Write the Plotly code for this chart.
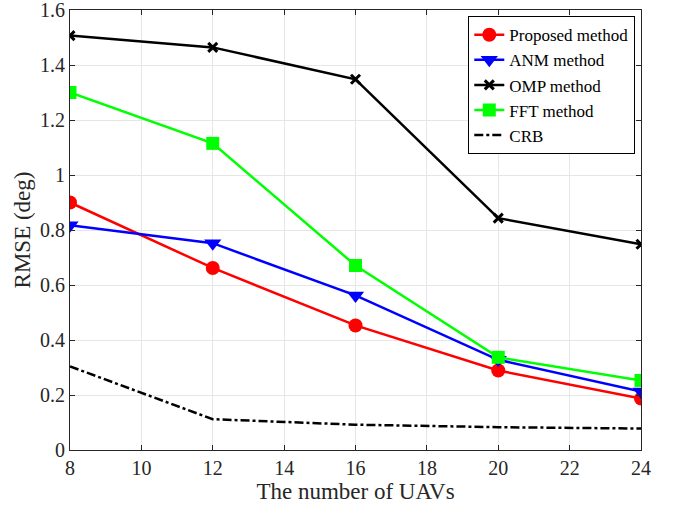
import plotly.graph_objects as go

uavs = [8, 12, 16, 20, 24]
proposed = [0.90, 0.662, 0.453, 0.289, 0.187]
anm = [0.817, 0.752, 0.562, 0.328, 0.213]
omp = [1.507, 1.464, 1.348, 0.843, 0.748]
fft = [1.300, 1.115, 0.671, 0.337, 0.253]
crb = [0.304, 0.112, 0.092, 0.083, 0.078]

fig = go.Figure()
fig.add_trace(go.Scatter(x=uavs, y=proposed, name="Proposed method", mode="lines+markers",
                         line=dict(color="#ff0000", width=2.5),
                         marker=dict(symbol="circle", size=14, color="#ff0000")))
fig.add_trace(go.Scatter(x=uavs, y=anm, name="ANM method", mode="lines+markers",
                         line=dict(color="#0000ff", width=2.5),
                         marker=dict(symbol="triangle-down", size=15, color="#0000ff")))
fig.add_trace(go.Scatter(x=uavs, y=omp, name="OMP method", mode="lines+markers",
                         line=dict(color="#000000", width=2.5),
                         marker=dict(symbol="x-thin", size=9, color="#000000",
                                     line=dict(width=3, color="#000000"))))
fig.add_trace(go.Scatter(x=uavs, y=fft, name="FFT method", mode="lines+markers",
                         line=dict(color="#00ff00", width=2.5),
                         marker=dict(symbol="square", size=13, color="#00ff00")))
fig.add_trace(go.Scatter(x=uavs, y=crb, name="CRB", mode="lines",
                         line=dict(color="#000000", width=2.5, dash="dashdot")))

axis_common = dict(showline=True, linecolor="#262626", linewidth=1, mirror="ticks",
                   ticks="inside", ticklen=5, tickcolor="#262626",
                   showgrid=True, gridcolor="#e6e6e6", gridwidth=1,
                   zeroline=False, automargin=False, ticklabeloverflow="allow",
                   tickfont=dict(family="Liberation Serif", size=20, color="#262626"))

fig.update_layout(
    width=673, height=506,
    margin=dict(l=70, r=32, t=10, b=56),
    paper_bgcolor="white", plot_bgcolor="white",
    font=dict(family="Liberation Serif", color="#262626"),
    xaxis=dict(range=[8, 24], tickvals=[8, 10, 12, 14, 16, 18, 20, 22, 24],
               title=dict(text="The number of UAVs", font=dict(size=23, family="Liberation Serif"), standoff=0),
               **axis_common),
    yaxis=dict(range=[0, 1.6], tickvals=[0, 0.2, 0.4, 0.6, 0.8, 1, 1.2, 1.4, 1.6],
               ticktext=["0", "0.2", "0.4", "0.6", "0.8", "1", "1.2", "1.4", "1.6"],
               title=dict(text="RMSE (deg)", font=dict(size=23, family="Liberation Serif"), standoff=2),
               **axis_common),
    legend=dict(x=0.99, y=0.986, xanchor="right", yanchor="top",
                bgcolor="white", bordercolor="#000000", borderwidth=1,
                font=dict(family="Liberation Serif", size=17, color="#000000"),
                tracegroupgap=0, itemwidth=30),
    showlegend=True,
)

fig.write_html("out.html")
